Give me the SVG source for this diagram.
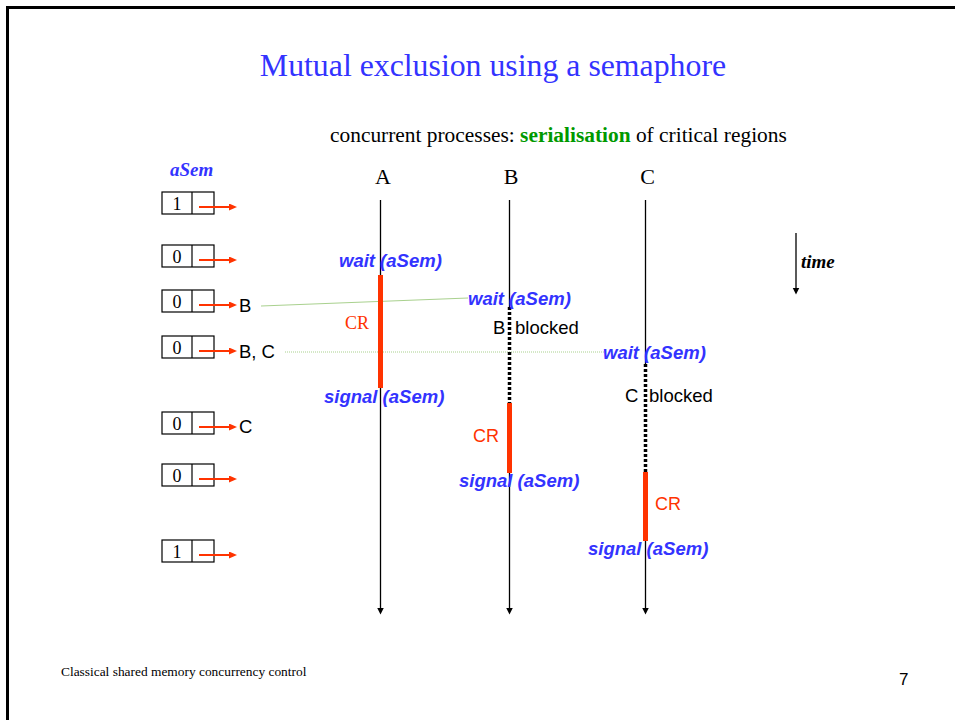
<svg xmlns="http://www.w3.org/2000/svg" width="955" height="720" viewBox="0 0 955 720">
  <style>
    .serif { font-family: "Liberation Serif", "Times New Roman", serif; }
    .sans { font-family: "Liberation Sans", Arial, sans-serif; }
    .blue { fill: #3333ff; }
    .red { fill: #ff3300; }
    .op { font-family: "Liberation Sans", Arial, sans-serif; font-size: 18.5px; font-weight: bold; font-style: italic; fill: #3333ff; }
    .cr-serif { font-family: "Liberation Serif", "Times New Roman", serif; font-size: 18px; fill: #ff3300; }
    .cr-sans { font-family: "Liberation Sans", Arial, sans-serif; font-size: 18px; fill: #ff3300; }
    .plain { font-family: "Liberation Sans", Arial, sans-serif; font-size: 18.5px; fill: #000; }
    .cell { fill: #fff; stroke: #000; stroke-width: 1.2; }
    .digit { font-family: "Liberation Serif", "Times New Roman", serif; font-size: 18px; fill: #000; text-anchor: middle; }
    .ptr { stroke: #ff3300; stroke-width: 2; fill: none; marker-end: url(#redHead); }
    .timeline { stroke: #000; stroke-width: 1.3; fill: none; }
    .tl-end { marker-end: url(#blackHead); }
    .cr-bar { stroke: #ff3300; stroke-width: 5; }
    .blocked { stroke: #000; stroke-width: 3.5; stroke-dasharray: 3 2; }
  </style>
  <defs>
    <marker id="redHead" markerUnits="userSpaceOnUse" markerWidth="9" markerHeight="8" refX="0.5" refY="3.5" orient="auto">
      <path d="M0,0 L8,3.5 L0,7 z" fill="#ff3300"/>
    </marker>
    <marker id="blackHead" markerUnits="userSpaceOnUse" markerWidth="8" markerHeight="8" refX="0.5" refY="3.5" orient="auto">
      <path d="M0,0 L7,3.5 L0,7 z" fill="#000"/>
    </marker>
  </defs>

  <!-- page frame -->
  <rect x="0" y="0" width="955" height="720" fill="#fff"/>
  <path d="M7.5,720 L7.5,7.5 L955,7.5" fill="none" stroke="#000" stroke-width="3"/>

  <!-- headings -->
  <g id="title">
    <text class="serif blue" x="493" y="76" font-size="31.8" text-anchor="middle">Mutual exclusion using a semaphore</text>
  </g>
  <g id="subtitle">
    <text class="serif" x="330" y="142" font-size="21.4" fill="#000">concurrent processes: <tspan font-weight="bold" fill="#009900">serialisation</tspan> of critical regions</text>
  </g>

  <!-- semaphore states -->
  <g id="aSem-label">
    <text class="serif blue" x="170" y="176" font-size="19" font-weight="bold" font-style="italic">aSem</text>
  </g>
  <g id="state-1">
    <rect class="cell" x="162" y="192" width="52" height="22"/>
    <line x1="192" y1="192" x2="192" y2="214" stroke="#000" stroke-width="1.2"/>
    <text class="digit" x="177" y="209.5">1</text>
    <line class="ptr" x1="199" y1="207" x2="229.5" y2="207"/>
  </g>
  <g id="state-2">
    <rect class="cell" x="162" y="245" width="52" height="22"/>
    <line x1="192" y1="245" x2="192" y2="267" stroke="#000" stroke-width="1.2"/>
    <text class="digit" x="177" y="262.5">0</text>
    <line class="ptr" x1="199" y1="260" x2="229.5" y2="260"/>
  </g>
  <g id="state-3">
    <rect class="cell" x="162" y="290" width="52" height="22"/>
    <line x1="192" y1="290" x2="192" y2="312" stroke="#000" stroke-width="1.2"/>
    <text class="digit" x="177" y="307.5">0</text>
    <line class="ptr" x1="199" y1="305" x2="229.5" y2="305"/>
    <text class="plain" x="239" y="312">B</text>
  </g>
  <g id="state-4">
    <rect class="cell" x="162" y="336" width="52" height="22"/>
    <line x1="192" y1="336" x2="192" y2="358" stroke="#000" stroke-width="1.2"/>
    <text class="digit" x="177" y="353.5">0</text>
    <line class="ptr" x1="199" y1="351" x2="229.5" y2="351"/>
    <text class="plain" x="239" y="358">B, C</text>
  </g>
  <g id="state-5">
    <rect class="cell" x="162" y="412" width="52" height="22"/>
    <line x1="192" y1="412" x2="192" y2="434" stroke="#000" stroke-width="1.2"/>
    <text class="digit" x="177" y="429.5">0</text>
    <line class="ptr" x1="199" y1="427" x2="229.5" y2="427"/>
    <text class="plain" x="239" y="433">C</text>
  </g>
  <g id="state-6">
    <rect class="cell" x="162" y="464" width="52" height="22"/>
    <line x1="192" y1="464" x2="192" y2="486" stroke="#000" stroke-width="1.2"/>
    <text class="digit" x="177" y="481.5">0</text>
    <line class="ptr" x1="199" y1="479" x2="229.5" y2="479"/>
  </g>
  <g id="state-7">
    <rect class="cell" x="162" y="540" width="52" height="22"/>
    <line x1="192" y1="540" x2="192" y2="562" stroke="#000" stroke-width="1.2"/>
    <text class="digit" x="177" y="557.5">1</text>
    <line class="ptr" x1="199" y1="555" x2="229.5" y2="555"/>
  </g>

  <!-- connectors: links from the semaphore queue to the waiting calls -->
  <g id="connectors">
    <line x1="261" y1="306" x2="468" y2="298" stroke="#a9d18e" stroke-width="1"/>
    <line x1="285" y1="352" x2="605" y2="352" stroke="#a9d18e" stroke-width="1" stroke-dasharray="1 1"/>
  </g>

  <!-- process A -->
  <g id="process-A">
    <text class="serif" x="383" y="184" font-size="22" text-anchor="middle" fill="#000">A</text>
    <line class="timeline tl-end" x1="380.5" y1="200" x2="380.5" y2="608"/>
    <line class="cr-bar" x1="380.5" y1="275" x2="380.5" y2="388"/>
    <text class="op" x="339" y="267">wait (aSem)</text>
    <text class="cr-serif" x="345" y="329">CR</text>
    <text class="op" x="324" y="403">signal (aSem)</text>
  </g>

  <!-- process B -->
  <g id="process-B">
    <text class="serif" x="511" y="184" font-size="22" text-anchor="middle" fill="#000">B</text>
    <line class="timeline" x1="509.5" y1="200" x2="509.5" y2="307"/>
    <line class="blocked" x1="509.5" y1="307" x2="509.5" y2="403"/>
    <line class="cr-bar" x1="509.5" y1="403" x2="509.5" y2="473"/>
    <line class="timeline tl-end" x1="509.5" y1="473" x2="509.5" y2="608"/>
    <text class="op" x="468" y="305">wait (aSem)</text>
    <text class="plain" y="334"><tspan x="493">B</tspan><tspan x="515">blocked</tspan></text>
    <text class="cr-sans" x="473" y="442">CR</text>
    <text class="op" x="459" y="487">signal (aSem)</text>
  </g>

  <!-- process C -->
  <g id="process-C">
    <text class="serif" x="647.5" y="184" font-size="22" text-anchor="middle" fill="#000">C</text>
    <line class="timeline" x1="645.5" y1="200" x2="645.5" y2="364"/>
    <line class="blocked" x1="645.5" y1="364" x2="645.5" y2="472"/>
    <line class="cr-bar" x1="645.5" y1="472" x2="645.5" y2="541"/>
    <line class="timeline tl-end" x1="645.5" y1="541" x2="645.5" y2="608"/>
    <text class="op" x="603" y="359">wait (aSem)</text>
    <text class="plain" y="402"><tspan x="625">C</tspan><tspan x="649">blocked</tspan></text>
    <text class="cr-sans" x="655" y="510">CR</text>
    <text class="op" x="588" y="555">signal (aSem)</text>
  </g>

  <!-- time axis -->
  <g id="time-axis">
    <line class="timeline tl-end" x1="796" y1="233" x2="796" y2="288"/>
    <text class="serif" x="801" y="268" font-size="19" font-weight="bold" font-style="italic" fill="#000">time</text>
  </g>

  <!-- footer -->
  <g id="footer">
    <text class="serif" x="61" y="676" font-size="13.4" fill="#000">Classical shared memory concurrency control</text>
    <text class="sans" x="899" y="685" font-size="17" fill="#000">7</text>
  </g>
</svg>
